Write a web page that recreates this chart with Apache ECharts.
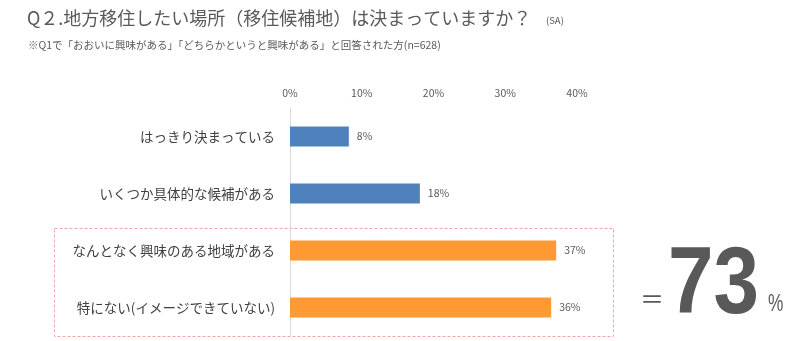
<!DOCTYPE html>
<html><head><meta charset="utf-8">
<script src="https://cdn.jsdelivr.net/npm/echarts@6/dist/echarts.min.js"></script>
<style>html,body{margin:0;padding:0;background:#fff}#c{width:800px;height:341px}</style>
</head><body><div id="c"></div>
<script>
const categories = ['はっきり決まっている','いくつか具体的な候補がある','なんとなく興味のある地域がある','特にない(イメージできていない)'];
const values = [8.2, 18.1, 37.1, 36.4];
const barColors = ['#4F81BD','#4F81BD','#FF9933','#FF9933'];
const xTicks = [0, 10, 20, 30, 40];
const totalText = '73';

const font = '"Noto Sans CJK JP", "Noto Sans", sans-serif';
const chart = echarts.init(document.getElementById('c'), null, {renderer:'canvas'});
chart.setOption({
  animation: false,
  textStyle: {fontFamily: font},
  grid: {left: 290, right: 223, top: 108, bottom: 5, containLabel: false},
  xAxis: {
    type: 'value', position: 'top', min: xTicks[0], max: xTicks[xTicks.length-1], interval: 10,
    axisLine: {show: false}, axisTick: {show: false}, splitLine: {show: false},
    axisLabel: {formatter: '{value}%', color: '#595959', fontSize: 10.5, margin: 10, fontFamily: font}
  },
  yAxis: {
    type: 'category', data: categories, inverse: true,
    axisLine: {show: true, lineStyle: {color: '#D9D9D9'}}, axisTick: {show: false},
    axisLabel: {color: '#404040', fontSize: 13.5, margin: 15, fontFamily: font}
  },
  series: [{
    type: 'bar', barWidth: 20,
    data: values.map((v, i) => ({value: v, itemStyle: {color: barColors[i]}})),
    label: {show: true, position: 'right', distance: 8, color: '#595959', fontSize: 10.5,
      formatter: p => Math.round(p.value) + '%', fontFamily: font}
  }],
  graphic: [
    {type: 'text', left: 27, top: 9, style: {text: 'Q２.地方移住したい場所（移住候補地）は決まっていますか？', fontSize: 18, fill: '#595959', fontFamily: font}},
    {type: 'text', left: 546, top: 16, style: {text: '(SA)', fontSize: 9.5, fill: '#595959', fontFamily: font}},
    {type: 'text', left: 28, top: 40, style: {text: '※Q1で「おおいに興味がある」「どちらかというと興味がある」と回答された方(n=628)', fontSize: 10.5, fill: '#595959', fontFamily: font}},
    {type: 'rect', shape: {x: 54.5, y: 228.5, width: 559, height: 108}, style: {fill: 'none', stroke: '#F4A6A6', lineWidth: 1, lineDash: [3, 2]}},
    {type: 'text', left: 640, top: 287, style: {text: '＝', fontSize: 24, fill: '#595959', fontFamily: font}},
    {type: 'text', x: 668, y: 240, scaleX: 0.87, style: {text: totalText, fontSize: 94, fontWeight: 'bold', fill: '#595959', fontFamily: '"Liberation Sans", Arial, sans-serif', letterSpacing: 6}},
    {type: 'text', x: 768, y: 293, scaleX: 0.75, style: {text: '%', fontSize: 23, fill: '#595959', fontFamily: '"Liberation Sans", Arial, sans-serif'}}
  ]
});
</script></body></html>
